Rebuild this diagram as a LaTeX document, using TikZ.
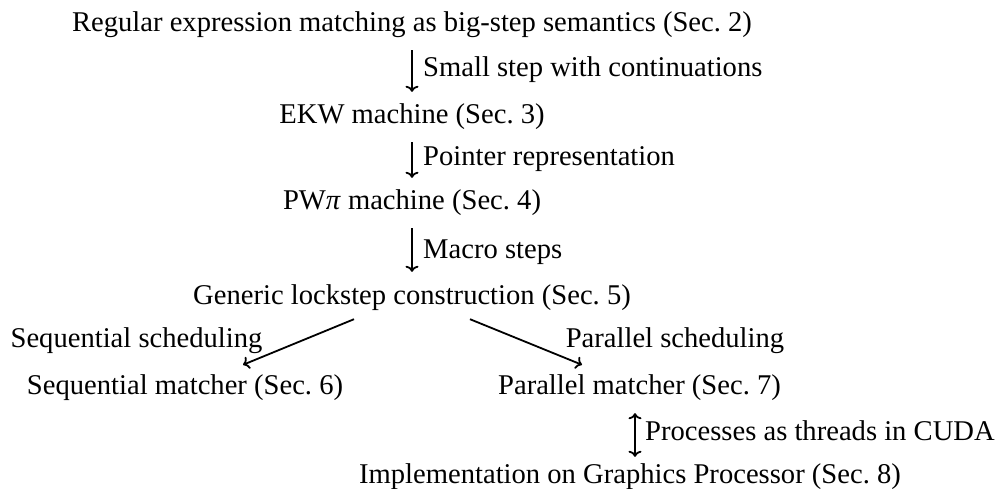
\documentclass[tikz,border=0pt]{standalone}
\usepackage{fontspec}
\setmainfont{Liberation Serif}
\usetikzlibrary{arrows.meta}
\begin{document}
\frenchspacing
\begin{tikzpicture}[x=1pt,y=-1pt,
  every node/.style={font=\fontsize{28.6}{34}\selectfont, inner sep=0pt},
  main/.style={anchor=base, text height=20pt, text depth=6pt},
  lbl/.style={anchor=base west},
  tip/.tip={To[length=6pt,width=13pt]},
  arr/.style={-tip, line width=1.8pt, shorten <=12pt, shorten >=12pt},
  darr/.style={tip-tip, line width=1.8pt, shorten <=13pt, shorten >=6pt},
  diag/.style={-tip, line width=1.8pt}]
\useasboundingbox (0,0) rectangle (1006,489);
\node[main] (n1) at (412,32) {Regular expression matching as big-step semantics (Sec. 2)};
\node[main] (n2) at (412,124) {EKW machine (Sec. 3)};
\node[main] (n3) at (412,210) {PW\textit{π} machine (Sec. 4)};
\node[main] (n4) at (412,304) {Generic lockstep construction (Sec. 5)};
\node[main] (n5) at (185,394) {Sequential matcher (Sec. 6)};
\node[main] (n6) at (639.5,394) {Parallel matcher (Sec. 7)};
\node[main] (n7) at (630,483) {Implementation on Graphics Processor (Sec. 8)};
\coordinate (ax) at (412,0);
\coordinate (bx) at (635,0);
\draw[arr] (n1.south -| ax) -- (n2.north -| ax);
\draw[arr] (n2.south -| ax) -- (n3.north -| ax);
\draw[arr] (n3.south -| ax) -- (n4.north -| ax);
\draw[darr] (n6.south -| bx) -- (n7.north -| bx);
\draw[diag] ([xshift=-58pt,yshift=-9pt]n4.south) -- ([xshift=58pt,yshift=9pt]n5.north);
\draw[diag] ([xshift=58pt,yshift=-9pt]n4.south) -- ([xshift=-57.5pt,yshift=9pt]n6.north);
\node[lbl] (l1) at (423,77) {Small step with continuations};
\node[lbl] (l2) at (423,166) {Pointer representation};
\node[lbl] (l3) at (423,258) {Macro steps};
\node[anchor=base] (l4) at (136.5,347) {Sequential scheduling};
\node[anchor=base] (l5) at (675,347) {Parallel scheduling};
\node[lbl] (l6) at (645,440) {Processes as threads in CUDA};
\end{tikzpicture}
\end{document}
